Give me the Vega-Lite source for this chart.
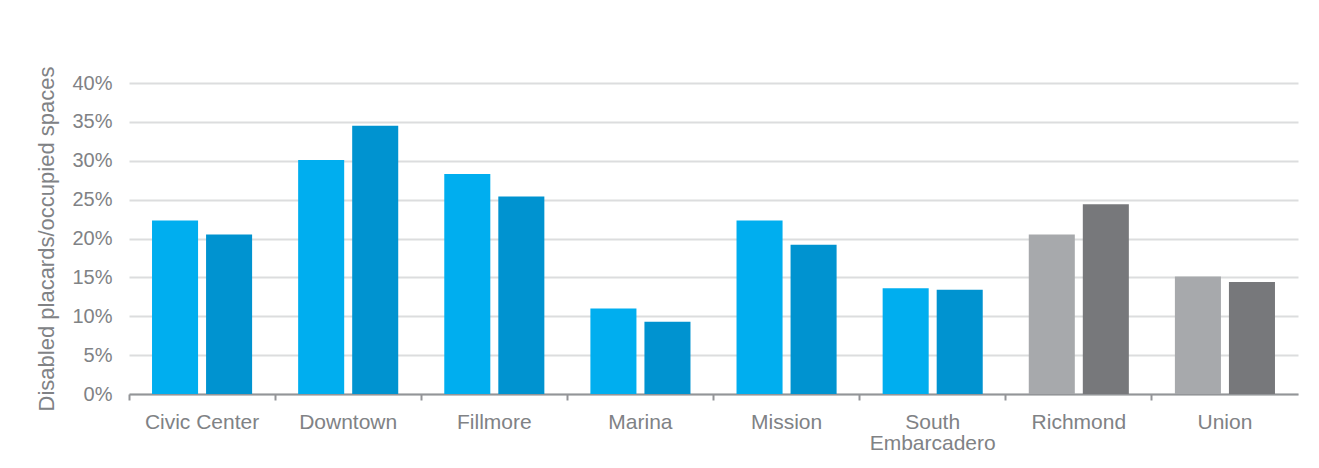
{
  "$schema": "https://vega.github.io/schema/vega-lite/v6.json",
  "width": 1169,
  "height": 311,
  "autosize": {"type": "none"},
  "padding": {"left": 129, "top": 83, "right": 21, "bottom": 74},
  "background": "white",
  "config": {
    "view": {"stroke": null},
    "font": "Liberation Sans",
    "axis": {"labelColor": "#808285", "titleColor": "#808285", "labelFontSize": 20, "titleFontSize": 22, "titleFontWeight": "normal"}
  },
  "data": {
    "values": [
      {"district": "Civic Center", "period": "Before", "series": "Pilot Before", "value": 22.3},
      {"district": "Civic Center", "period": "After", "series": "Pilot After", "value": 20.5},
      {"district": "Downtown", "period": "Before", "series": "Pilot Before", "value": 30.1},
      {"district": "Downtown", "period": "After", "series": "Pilot After", "value": 34.5},
      {"district": "Fillmore", "period": "Before", "series": "Pilot Before", "value": 28.3},
      {"district": "Fillmore", "period": "After", "series": "Pilot After", "value": 25.4},
      {"district": "Marina", "period": "Before", "series": "Pilot Before", "value": 11.0},
      {"district": "Marina", "period": "After", "series": "Pilot After", "value": 9.3},
      {"district": "Mission", "period": "Before", "series": "Pilot Before", "value": 22.3},
      {"district": "Mission", "period": "After", "series": "Pilot After", "value": 19.2},
      {"district": "South Embarcadero", "period": "Before", "series": "Pilot Before", "value": 13.6},
      {"district": "South Embarcadero", "period": "After", "series": "Pilot After", "value": 13.4},
      {"district": "Richmond", "period": "Before", "series": "Control Before", "value": 20.5},
      {"district": "Richmond", "period": "After", "series": "Control After", "value": 24.4},
      {"district": "Union", "period": "Before", "series": "Control Before", "value": 15.1},
      {"district": "Union", "period": "After", "series": "Control After", "value": 14.4}
    ]
  },
  "mark": {"type": "bar"},
  "encoding": {
    "x": {
      "field": "district",
      "type": "nominal",
      "sort": null,
      "scale": {"paddingInner": 0, "paddingOuter": 0},
      "axis": {
        "title": null,
        "labelAngle": 0,
        "labelFontSize": 21,
        "bandPosition": 0,
        "labelPadding": 11,
        "labelLineHeight": 21,
        "labelExpr": "datum.value == 'South Embarcadero' ? ['South', 'Embarcadero'] : datum.value",
        "domainColor": "#939598",
        "domainWidth": 2,
        "tickColor": "#939598",
        "tickWidth": 2,
        "tickSize": 6,
        "grid": false
      }
    },
    "xOffset": {
      "field": "period",
      "type": "nominal",
      "sort": ["Before", "After"],
      "scale": {"paddingInner": 0.148, "paddingOuter": 0.426}
    },
    "y": {
      "field": "value",
      "type": "quantitative",
      "scale": {"domain": [0, 40], "nice": false},
      "axis": {
        "title": "Disabled placards/occupied spaces",
        "values": [0, 5, 10, 15, 20, 25, 30, 35, 40],
        "labelExpr": "datum.value + '%'",
        "domain": false,
        "ticks": false,
        "labelPadding": 17,
        "titlePadding": 13,
        "gridColor": "#dcddde",
        "gridWidth": 2
      }
    },
    "color": {
      "field": "series",
      "type": "nominal",
      "scale": {
        "domain": ["Pilot Before", "Pilot After", "Control Before", "Control After"],
        "range": ["#00aeef", "#0093d0", "#a7a9ac", "#77787b"]
      },
      "legend": null
    }
  }
}
